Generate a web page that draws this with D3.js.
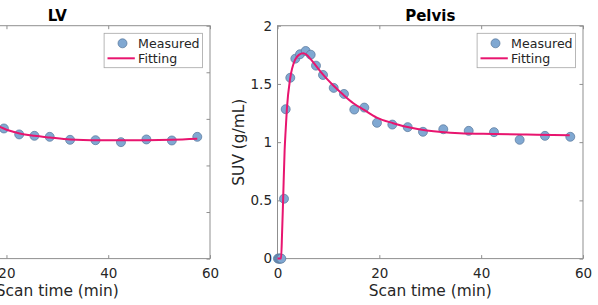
<!DOCTYPE html>
<html><head><meta charset="utf-8">
<script src="https://cdn.jsdelivr.net/npm/d3@7"></script>
<style>
html,body{margin:0;padding:0;background:#fff;}
svg{display:block;font-family:"DejaVu Sans",sans-serif;}
</style></head>
<body>
<svg id="chart" width="598" height="305"></svg>
<script>
// ---- data ----
const lvTimes = [19.5, 22.5, 25.5, 28.5, 32.5, 37.5, 42.5, 47.5, 52.5, 57.5];
const lvMeasured = [1.397, 1.333, 1.318, 1.307, 1.275, 1.271, 1.250, 1.279, 1.268, 1.307];
const lvFitTimes = [17, 18.7, 20.5, 22.6, 25.5, 28.5, 32.5, 38.3, 42.5, 47.5, 52.5, 57.5];
const lvFitValues = [1.45, 1.414, 1.375, 1.343, 1.318, 1.300, 1.279, 1.271, 1.270, 1.271, 1.276, 1.287];

const pelvisTimes = [0.08, 0.25, 0.42, 0.58, 0.75, 1.28, 1.61, 2.51, 3.50, 4.42, 5.54, 6.52, 7.56, 8.94, 11.04, 13.06, 15.08, 17.05, 19.54, 22.55, 25.57, 28.57, 32.56, 37.55, 42.52, 47.56, 52.53, 57.5];
const pelvisMeasured = [0, 0, 0, 0, 0, 0.514, 1.283, 1.553, 1.717, 1.755, 1.783, 1.751, 1.657, 1.577, 1.466, 1.414, 1.280, 1.297, 1.166, 1.151, 1.129, 1.089, 1.111, 1.097, 1.086, 1.020, 1.054, 1.046];
const pelvisFitTimes = [0, 0.7, 0.9, 1.1, 1.4, 1.6, 1.85, 2.5, 3.44, 4.2, 5.07, 5.7, 6.38, 7.69, 9.0, 10.97, 12.93, 14.9, 17.0, 19.5, 22.7, 26.0, 29.3, 35.8, 42.4, 48.9, 57.4];
const pelvisFitValues = [0, 0, 0.22, 0.5, 0.93, 1.1, 1.29, 1.55, 1.706, 1.75, 1.763, 1.75, 1.72, 1.648, 1.577, 1.486, 1.406, 1.334, 1.277, 1.211, 1.163, 1.125, 1.10, 1.077, 1.071, 1.066, 1.060];

const xTicks = [0, 20, 40, 60];
const lvYTicks = [0, 0.5, 1, 1.5, 2, 2.5];
const pelvisYTicks = [0, 0.5, 1, 1.5, 2];
const legendLabels = ["Measured", "Fitting"];

const panels = [
  {title: "LV", times: lvTimes, meas: lvMeasured, fitT: lvFitTimes, fitV: lvFitValues,
   yMax: 2.5, yTicks: lvYTicks, x0: -95.3, x1: 210},
  {title: "Pelvis", times: pelvisTimes, meas: pelvisMeasured, fitT: pelvisFitTimes, fitV: pelvisFitValues,
   yMax: 2, yTicks: pelvisYTicks, x0: 277.5, x1: 583}
];

const plotTop = 25.7, plotBottom = 258.6;
const axisColor = "#8f8f8f", textColor = "#262626";
const markerFill = "#80a8d2", markerStroke = "#56759a";
const lineColor = "#e8156f";
const fmt = d => String(d);

const svg = d3.select("#chart");

panels.forEach(p => {
  const x = d3.scaleLinear().domain([0, 60]).range([p.x0, p.x1]);
  const y = d3.scaleLinear().domain([0, p.yMax]).range([plotBottom, plotTop]);
  const g = svg.append("g");

  const styleAxis = sel => {
    sel.select(".domain").remove();
    sel.selectAll(".tick line").attr("stroke", axisColor);
    sel.selectAll(".tick text").attr("fill", textColor).style("font-size", "13.5px")
       .style("font-family", "DejaVu Sans, sans-serif");
  };
  g.append("g").attr("transform", `translate(0,${plotBottom})`)
    .call(d3.axisBottom(x).tickValues(xTicks).tickFormat(fmt).tickSize(-3.5).tickPadding(9.8))
    .call(styleAxis);
  g.append("g").attr("transform", `translate(0,${plotTop})`)
    .call(d3.axisTop(x).tickValues(xTicks).tickFormat("").tickSize(-3.5))
    .call(styleAxis);
  g.append("g").attr("transform", `translate(${p.x0},0)`)
    .call(d3.axisLeft(y).tickValues(p.yTicks).tickFormat(fmt).tickSize(-3.5).tickPadding(5.5))
    .call(styleAxis);
  g.append("g").attr("transform", `translate(${p.x1},0)`)
    .call(d3.axisRight(y).tickValues(p.yTicks).tickFormat("").tickSize(-3.5))
    .call(styleAxis);

  g.append("rect").attr("x", p.x0).attr("y", plotTop)
    .attr("width", p.x1 - p.x0).attr("height", plotBottom - plotTop)
    .attr("fill", "none").attr("stroke", axisColor).attr("stroke-width", 1);

  const cx = (p.x0 + p.x1) / 2;
  g.append("text").attr("x", cx).attr("y", 21).attr("text-anchor", "middle")
    .style("font-size", "15px").style("font-weight", "bold").attr("fill", "#000").text(p.title);
  g.append("text").attr("x", cx).attr("y", 295.7).attr("text-anchor", "middle")
    .style("font-size", "15.4px").attr("fill", textColor).text("Scan time (min)");
  g.append("text").attr("transform", `translate(${p.x0 - 33.5},${(plotTop + plotBottom) / 2}) rotate(-90)`)
    .attr("text-anchor", "middle").style("font-size", "15.4px").attr("fill", textColor).text("SUV (g/mL)");

  g.append("g").selectAll("circle").data(p.times.map((t, i) => [t, p.meas[i]])).join("circle")
    .attr("cx", d => x(d[0])).attr("cy", d => y(d[1])).attr("r", 4.5)
    .attr("fill", markerFill).attr("stroke", markerStroke).attr("stroke-width", 0.7);

  const line = d3.line().x(d => x(d[0])).y(d => y(d[1])).curve(d3.curveMonotoneX);
  g.append("path").datum(p.fitT.map((t, i) => [t, p.fitV[i]]))
    .attr("d", line).attr("fill", "none").attr("stroke", lineColor).attr("stroke-width", 2);

  const bw = 98.4, bh = 34.4;
  const bx = p.x1 - 7.5 - bw, by = plotTop + 7.6;
  const lg = g.append("g").attr("transform", `translate(${bx},${by})`);
  lg.append("rect").attr("width", bw).attr("height", bh).attr("fill", "#fff")
    .attr("stroke", "#a6a6a6").attr("stroke-width", 0.8);
  lg.append("circle").attr("cx", 18.4).attr("cy", 10).attr("r", 4.5)
    .attr("fill", markerFill).attr("stroke", markerStroke).attr("stroke-width", 0.7);
  lg.append("line").attr("x1", 3.4).attr("x2", 30.7).attr("y1", 25).attr("y2", 25)
    .attr("stroke", lineColor).attr("stroke-width", 2);
  lg.append("text").attr("x", 34).attr("y", 14.4).style("font-size", "12.6px").attr("fill", textColor).text(legendLabels[0]);
  lg.append("text").attr("x", 34).attr("y", 29.7).style("font-size", "12.6px").attr("fill", textColor).text(legendLabels[1]);
});

// texts that fall entirely outside the visible window (the reference is cropped there) are dropped
svg.selectAll("text").each(function () {
  const b = this.getBoundingClientRect();
  if (b.right <= 0 || b.left >= 598) d3.select(this).remove();
});
</script>
</body></html>
